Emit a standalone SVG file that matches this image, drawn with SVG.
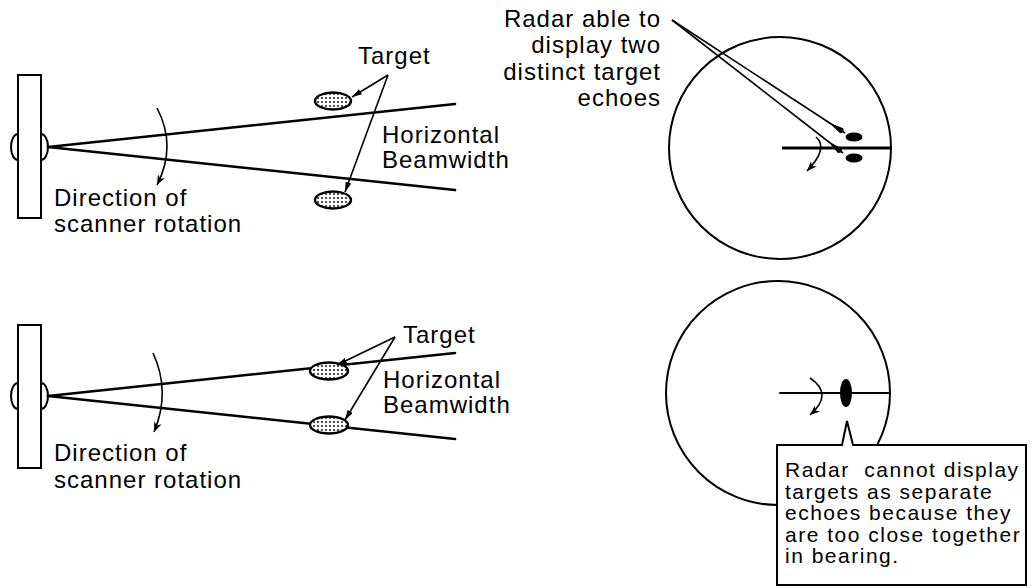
<svg xmlns="http://www.w3.org/2000/svg" width="1032" height="587" viewBox="0 0 1032 587">
<defs>
<style>
.ln{fill:none;stroke:#000;stroke-width:2;stroke-linecap:round}
.beam{fill:none;stroke:#000;stroke-width:2.6;stroke-linecap:round}
.thin{fill:none;stroke:#000;stroke-width:1.6}
.box{fill:#fff;stroke:#000;stroke-width:2}
.tgt{fill:url(#dots);stroke:#000;stroke-width:2.4}
.echo{fill:#000;stroke:none}
.lbl{font-family:"Liberation Sans",Arial,sans-serif;font-size:24px;letter-spacing:1px;fill:#000}
.note{font-family:"Liberation Sans",Arial,sans-serif;font-size:21px;letter-spacing:1.5px;fill:#000;white-space:pre}
</style>
<pattern id="dots" width="4" height="4" patternUnits="userSpaceOnUse">
<rect width="4" height="4" fill="#fff"/>
<circle cx="2" cy="2" r="0.9" fill="#000"/>
</pattern>
<marker id="ah" viewBox="0 0 10 6" refX="10" refY="3" markerWidth="10" markerHeight="6" markerUnits="userSpaceOnUse" orient="auto">
<path d="M0,0 L10,3 L0,6 Z" fill="#000"/>
</marker>
<marker id="ahLong" viewBox="0 0 15 6" refX="15" refY="3" markerWidth="15" markerHeight="6" markerUnits="userSpaceOnUse" orient="auto">
<path d="M0,2.2 L11,0 Q15,3 11,6 L0,3.8 Z" fill="#000"/>
</marker>
<marker id="ahArc" viewBox="0 0 10 8" refX="10" refY="4" markerWidth="10" markerHeight="8" markerUnits="userSpaceOnUse" orient="auto">
<path d="M0,0 L10,4 L0,8 L3,4 Z" fill="#000"/>
</marker>
</defs>
<rect width="1032" height="587" fill="#fff"/>

<g id="scanner-top">
<rect x="18" y="75" width="23" height="143" class="ln" style="fill:#fff"/>
<path d="M18,134 A7,13 0 0 0 18,160" class="ln"/>
<path d="M41,134 A7,13 0 0 1 41,160" class="ln"/>
</g>
<g id="beam-top">
<path d="M48,147 L455,104" class="beam"/>
<path d="M48,147 L455,190" class="beam"/>
</g>
<g id="targets-top">
<ellipse cx="333" cy="101" rx="18" ry="8.5" class="tgt"/>
<ellipse cx="333" cy="200" rx="18" ry="8.5" class="tgt"/>
</g>
<g id="labels-top">
<text x="358" y="64" class="lbl">Target</text>
<text x="382" y="143" class="lbl">Horizontal</text>
<text x="382" y="168" class="lbl">Beamwidth</text>
<text x="54" y="206" class="lbl">Direction of</text>
<text x="54" y="232" class="lbl">scanner rotation</text>
</g>

<g id="radar-top">
<circle cx="780" cy="148" r="111" class="ln"/>
<path d="M782,148 L892,148" fill="none" stroke="#000" stroke-width="3.2"/>
<ellipse cx="854" cy="137" rx="8.5" ry="4.5" class="echo"/>
<ellipse cx="854" cy="158" rx="8.5" ry="4.5" class="echo"/>
</g>
<g id="label-radar-top">
<text x="661" y="27" class="lbl" text-anchor="end">Radar able to</text>
<text x="661" y="53" class="lbl" text-anchor="end">display two</text>
<text x="661" y="80" class="lbl" text-anchor="end">distinct target</text>
<text x="661" y="106" class="lbl" text-anchor="end">echoes</text>
</g>

<g id="scanner-bottom">
<rect x="18" y="325" width="23" height="143" class="ln" style="fill:#fff"/>
<path d="M18,383 A7,13 0 0 0 18,409" class="ln"/>
<path d="M41,383 A7,13 0 0 1 41,409" class="ln"/>
</g>
<g id="beam-bottom">
<path d="M48,396 L455,353" class="beam"/>
<path d="M48,396 L455,439" class="beam"/>
</g>
<g id="targets-bottom">
<ellipse cx="329" cy="371" rx="19" ry="8.5" class="tgt"/>
<ellipse cx="329" cy="425" rx="19" ry="8.5" class="tgt"/>
</g>
<g id="labels-bottom">
<text x="403" y="343" class="lbl">Target</text>
<text x="383" y="388" class="lbl">Horizontal</text>
<text x="383" y="413" class="lbl">Beamwidth</text>
<text x="54" y="461" class="lbl">Direction of</text>
<text x="54" y="488" class="lbl">scanner rotation</text>
</g>

<g id="radar-bottom">
<circle cx="778" cy="393" r="112" class="ln"/>
<path d="M780,393 L890,393" class="ln"/>
<ellipse cx="846" cy="393" rx="6" ry="14" class="echo"/>
</g>
<g id="callout-bottom">
<path d="M777,445 H842 L847,421 L853,445 H1026 V585 H777 Z" class="box"/>
<text x="785" y="477" class="note">Radar  cannot display</text>
<text x="785" y="498.5" class="note">targets as separate</text>
<text x="785" y="520" class="note">echoes because they</text>
<text x="785" y="541.5" class="note">are too close together</text>
<text x="785" y="563" class="note">in bearing.</text>
</g>

<g id="connectors">
<path d="M388,75 L352,97" class="thin" marker-end="url(#ah)"/>
<path d="M388,75 L345,192" class="thin" marker-end="url(#ah)"/>
<path d="M395,337 L337,365" class="thin" marker-end="url(#ah)"/>
<path d="M395,337 L345,420" class="thin" marker-end="url(#ah)"/>
<path d="M672,20 L845,133" class="thin" marker-end="url(#ahLong)"/>
<path d="M672,20 L843,153" class="thin" marker-end="url(#ahLong)"/>
<path d="M157,108 Q177,146 157,185" class="thin" marker-end="url(#ahArc)"/>
<path d="M153,353 Q171,392 154,432" class="thin" marker-end="url(#ahArc)"/>
<path d="M816,137 Q829,148 807,171" class="thin" marker-end="url(#ahArc)"/>
<path d="M810,378 Q834,394 810,415" class="thin" marker-end="url(#ahArc)"/>
</g>
</svg>
